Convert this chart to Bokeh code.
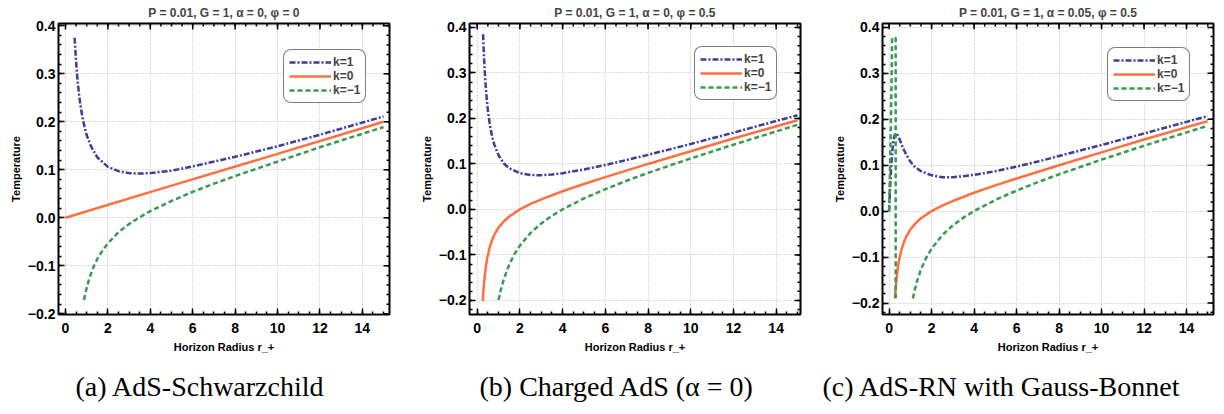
import numpy as np
from bokeh.plotting import figure
from bokeh.models import (FixedTicker, CustomJSTickFormatter, Legend,
                          LegendItem, Range1d, Title)
from bokeh.layouts import row
from bokeh.embed import file_html
from bokeh.resources import INLINE

nan = float("nan")

# ---------------- data ----------------
# Panel (a): P=0.01, G=1, alpha=0, phi=0
ra_k1 = [0.43, 0.46, 0.5, 0.55, 0.6, 0.65, 0.7, 0.8, 0.9, 1.0, 1.2, 1.5, 2.0, 2.5, 3.0, 3.5, 4.0, 5.0, 6.0, 8.0, 10.0, 12.0, 15.0]
Ta_k1 = [0.375, 0.352, 0.325, 0.296, 0.273, 0.253, 0.236, 0.209, 0.189, 0.172, 0.149, 0.126, 0.106, 0.097, 0.093, 0.092, 0.093, 0.098, 0.107, 0.127, 0.149, 0.173, 0.211]
ra_k0 = [0.0, 5.0, 10.0, 15.0]
Ta_k0 = [0.0, 0.067, 0.133, 0.200]
ra_km1 = [0.87, 0.95, 1.0, 1.1, 1.2, 1.35, 1.5, 1.75, 2.0, 2.5, 3.0, 3.5, 4.0, 5.0, 6.0, 7.0, 8.0, 10.0, 12.0, 15.0]
Ta_km1 = [-0.171, -0.155, -0.146, -0.130, -0.117, -0.100, -0.086, -0.068, -0.053, -0.030, -0.013, 0.001, 0.014, 0.035, 0.054, 0.071, 0.087, 0.117, 0.147, 0.189]

# Panel (b): P=0.01, G=1, alpha=0, phi=0.5
rb_k1 = [0.277, 0.29, 0.3, 0.325, 0.35, 0.4, 0.45, 0.5, 0.6, 0.7, 0.8, 1.0, 1.25, 1.5, 2.0, 2.5, 3.0, 3.5, 4.0, 5.0, 6.0, 8.0, 10.0, 12.0, 15.0]
Tb_k1 = [0.385, 0.368, 0.356, 0.330, 0.307, 0.270, 0.241, 0.218, 0.184, 0.160, 0.143, 0.119, 0.101, 0.0905, 0.0796, 0.0756, 0.0752, 0.0769, 0.0797, 0.0878, 0.0976, 0.1199, 0.1439, 0.1688, 0.2071]
rb_k0 = [0.26, 0.28, 0.3, 0.35, 0.4, 0.45, 0.5, 0.6, 0.7, 0.8, 1.0, 1.25, 1.5, 2.0, 2.5, 3.0, 4.0, 5.0, 6.0, 8.0, 10.0, 12.0, 15.0]
Tb_k0 = [-0.2015, -0.187, -0.174, -0.148, -0.128, -0.112, -0.100, -0.081, -0.067, -0.056, -0.040, -0.026, -0.0155, 0.000, 0.012, 0.022, 0.040, 0.056, 0.071, 0.100, 0.128, 0.156, 0.196]
rb_km1 = [1.0, 1.1, 1.25, 1.5, 1.75, 2.0, 2.5, 3.0, 3.5, 4.0, 5.0, 6.0, 7.0, 8.0, 10.0, 12.0, 15.0]
Tb_km1 = [-0.199, -0.178, -0.153, -0.1215, -0.098, -0.0795, -0.0516, -0.0308, -0.014, 0.0002, 0.0242, 0.0446, 0.063, 0.0802, 0.1121, 0.1423, 0.1859]

# Panel (c): P=0.01, G=1, alpha=0.05, phi=0.5
rc_k1 = [0.0, 0.05, 0.1, 0.15, 0.2, 0.25, 0.3, 0.35, 0.4, 0.5, 0.6, 0.7, 0.8, 1.0, 1.2, 1.5, 2.0, 2.5, 3.0, 3.5, 4.0, 5.0, 6.0, 7.0, 8.0, 10.0, 12.0, 15.0]
Tc_k1 = [0.0, 0.052, 0.096, 0.130, 0.152, 0.164, 0.169, 0.169, 0.166, 0.156, 0.144, 0.133, 0.1235, 0.108, 0.097, 0.087, 0.078, 0.074, 0.074, 0.076, 0.079, 0.087, 0.097, 0.108, 0.120, 0.144, 0.169, 0.207]
rc_k0 = [0.275, 0.3, 0.35, 0.4, 0.45, 0.5, 0.6, 0.7, 0.8, 1.0, 1.25, 1.5, 2.0, 2.5, 3.0, 4.0, 5.0, 6.0, 8.0, 10.0, 12.0, 15.0]
Tc_k0 = [-0.190, -0.174, -0.148, -0.128, -0.112, -0.100, -0.081, -0.067, -0.056, -0.040, -0.026, -0.0155, 0.000, 0.012, 0.022, 0.040, 0.056, 0.071, 0.100, 0.128, 0.156, 0.196]
rc_km1 = [0.0, 0.03, 0.06, 0.09, 0.11, 0.125, 0.135, 0.142, 0.31, 0.31, nan,
          1.12, 1.2, 1.3, 1.5, 1.75, 2.0, 2.5, 3.0, 3.5, 4.0, 5.0, 6.0, 7.0, 8.0, 10.0, 12.0, 15.0]
Tc_km1 = [0.0, 0.064, 0.132, 0.208, 0.266, 0.314, 0.350, 0.377, 0.377, -0.190, nan,
          -0.190, -0.173, -0.155, -0.127, -0.101, -0.0815, -0.0524, -0.0311, -0.0141, 0.0002, 0.0243, 0.0447, 0.0631, 0.0802, 0.1122, 0.1424, 0.1859]

x_ticks = [0, 2, 4, 6, 8, 10, 12, 14]
y_ticks = [-0.2, -0.1, 0.0, 0.1, 0.2, 0.3, 0.4]
legend_labels = ["k=1", "k=0", "k=\u22121"]
titles = ["P = 0.01, G = 1, \u03b1 = 0, \u03c6 = 0",
          "P = 0.01, G = 1, \u03b1 = 0, \u03c6 = 0.5",
          "P = 0.01, G = 1, \u03b1 = 0.05, \u03c6 = 0.5"]
captions = ["(a) AdS-Schwarzchild", "(b) Charged AdS (\u03b1 = 0)", "(c) AdS-RN with Gauss-Bonnet"]

# ---------------- styling ----------------
C_K1 = "#3d3d9a"
C_K0 = "#ff7040"
C_KM1 = "#3a9a50"
SANS = "Liberation Sans"
SERIF = "Liberation Serif"

x_minor = [i * 0.5 for i in range(-1, 32)]
y_minor = [round(-0.24 + i * 0.02, 2) for i in range(0, 34)]

xfmt = CustomJSTickFormatter(code="return tick.toFixed(0);")
yfmt = CustomJSTickFormatter(code="return tick.toFixed(1).replace('-', '\u2212');")

PANEL_H = 414


def make_panel(title, caption, cap_offset, xr, yr, width, bl, br, bt, bb, series, leg_xy):
    p = figure(width=width, height=PANEL_H,
               x_range=Range1d(*xr), y_range=Range1d(*yr),
               output_backend="svg", toolbar_location=None,
               min_border_left=bl, min_border_right=br, min_border_top=bt, min_border_bottom=bb)
    p.title.text = title
    p.title.align = "center"
    p.title.text_font = SANS
    p.title.text_font_style = "bold"
    p.title.text_font_size = "12px"
    p.title.standoff = 7
    p.outline_line_color = "black"
    p.outline_line_width = 2
    p.background_fill_color = "white"
    p.border_fill_color = "white"

    xt = FixedTicker(ticks=x_ticks, minor_ticks=x_minor)
    yt = FixedTicker(ticks=y_ticks, minor_ticks=y_minor)

    for ax in p.xaxis:
        ax.ticker = xt
        ax.formatter = xfmt
        ax.axis_label = "Horizon Radius r_+"
        ax.axis_label_standoff = 5
        ax.major_label_standoff = 8
    for ax in p.yaxis:
        ax.ticker = yt
        ax.formatter = yfmt
        ax.axis_label = "Temperature"
        ax.axis_label_standoff = 3
        ax.major_label_standoff = 3
    for ax in list(p.xaxis) + list(p.yaxis):
        ax.axis_line_color = None
        ax.major_tick_in = 6
        ax.major_tick_out = 0
        ax.minor_tick_in = 3
        ax.minor_tick_out = 0
        ax.major_tick_line_width = 1.5
        ax.minor_tick_line_width = 1.5
        ax.major_tick_line_color = "black"
        ax.minor_tick_line_color = "black"
        ax.major_label_text_font = SANS
        ax.major_label_text_font_style = "bold"
        ax.major_label_text_font_size = "14px"
        ax.major_label_text_color = "black"
        ax.axis_label_text_font = SANS
        ax.axis_label_text_font_style = "bold"
        ax.axis_label_text_font_size = "11px"
        ax.axis_label_text_color = "black"

    # caption under the panel
    cap = Title(text=caption, align="left", offset=cap_offset, standoff=26,
                text_font=SERIF, text_font_size="28px", text_font_style="normal",
                text_color="black")
    p.add_layout(cap, "below")

    # frame ticks on the top and right edges, derived from the same tick lists
    fw = width - bl - br
    fh = PANEL_H - bt - bb
    ppx = fw / (xr[1] - xr[0])
    ppy = fh / (yr[1] - yr[0])
    xmaj = list(x_ticks)
    xmin = [t for t in x_minor if xr[0] <= t <= xr[1]]
    ymaj = list(y_ticks)
    ymin = [t for t in y_minor if yr[0] <= t <= yr[1]]
    for ts, ln in ((xmaj, 6), (xmin, 3)):
        p.segment(x0=ts, y0=[yr[1]] * len(ts), x1=ts, y1=[yr[1] - ln / ppy] * len(ts),
                  line_color="black", line_width=1.5)
    for ts, ln in ((ymaj, 6), (ymin, 3)):
        p.segment(x0=[xr[1]] * len(ts), y0=ts, x1=[xr[1] - ln / ppx] * len(ts), y1=ts,
                  line_color="black", line_width=1.5)

    p.xgrid.ticker = xt
    p.ygrid.ticker = yt
    for g in (p.xgrid, p.ygrid):
        g.grid_line_color = "#b8b8b8"
        g.grid_line_dash = "1 2"
        g.grid_line_width = 1

    (x1, y1), (x0, y0), (xm, ym) = series
    r1 = p.line(np.array(x1, dtype=float), np.array(y1, dtype=float), line_color=C_K1, line_width=2.5, line_dash="6 2 2 2")
    r0 = p.line(np.array(x0, dtype=float), np.array(y0, dtype=float), line_color=C_K0, line_width=2.5)
    rm = p.line(np.array(xm, dtype=float), np.array(ym, dtype=float), line_color=C_KM1, line_width=2.5, line_dash="5 3")

    leg = Legend(items=[LegendItem(label=legend_labels[0], renderers=[r1]),
                        LegendItem(label=legend_labels[1], renderers=[r0]),
                        LegendItem(label=legend_labels[2], renderers=[rm])],
                 location=leg_xy)
    leg.border_line_color = "black"
    leg.border_line_width = 1
    leg.background_fill_color = "white"
    leg.background_fill_alpha = 1.0
    leg.label_text_font = SANS
    leg.label_text_font_style = "bold"
    leg.label_text_font_size = "12px"
    leg.glyph_width = 42
    leg.glyph_height = 14
    leg.label_height = 14
    leg.label_standoff = 2
    leg.spacing = 0
    leg.padding = 5
    leg.margin = 0
    try:
        leg.border_radius = 8
    except Exception:
        pass
    p.add_layout(leg)
    return p


pa = make_panel(titles[0], captions[0], 17, (-0.33, 15.28), (-0.2015, 0.4047), 410, 58, 21, 22, 97,
                [(ra_k1, Ta_k1), (ra_k0, Ta_k0), (ra_km1, Ta_km1)], (225, 211))
pb = make_panel(titles[1], captions[1], 10, (-0.36, 15.14), (-0.231, 0.4087), 410, 59, 20, 23, 97,
                [(rb_k1, Tb_k1), (rb_k0, Tb_k0), (rb_km1, Tb_km1)], (225, 214))
pc = make_panel(titles[2], captions[2], -60, (-0.31, 15.27), (-0.225, 0.4085), 404, 62, 11, 21, 94,
                [(rc_k1, Tc_k1), (rc_k0, Tc_k0), (rc_km1, Tc_km1)], (225, 213))

layout = row(pa, pb, pc, spacing=0)
open("out.html", "w").write(file_html(layout, INLINE))
